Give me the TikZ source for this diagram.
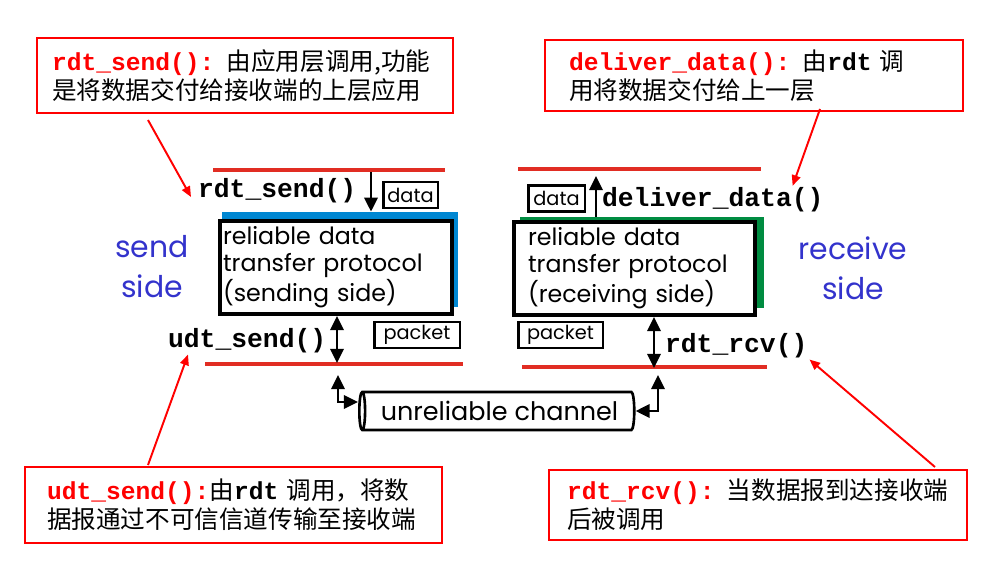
\documentclass[tikz,border=0pt]{standalone}
\usepackage{fontspec}
\setmainfont{Poppins}
\setmonofont{Liberation Mono}
\newfontfamily\cjk{Noto Sans CJK SC}
\newfontfamily\sidefont{Poppins}
\usepackage{xcolor}
\usepackage{tikz}
\usetikzlibrary{arrows.meta, positioning, shapes.geometric}
\definecolor{notered}{RGB}{255,0,0}
\definecolor{layerred}{RGB}{225,45,35}
\definecolor{sendblue}{RGB}{0,135,210}
\definecolor{rcvgreen}{RGB}{0,140,65}
\definecolor{sideblue}{RGB}{51,51,204}
\newcommand{\callname}[1]{{\ttfamily\bfseries\color{notered}#1}}
\newcommand{\rdtname}{{\ttfamily\bfseries rdt}}
\tikzset{
    note/.style={
        rectangle,
        draw=notered,
        line width=1.2pt,
        anchor=north west,
        inner ysep=0pt,
        align=left,
        font=\cjk\fontsize{14}{16.4}\selectfont
    },
    shadowbox/.style={
        rectangle,
        draw=none,
        inner sep=0pt
    },
    protocol/.style={
        rectangle,
        draw=black,
        line width=2.2pt,
        fill=white,
        align=left,
        font=\fontsize{13.5}{15.3}\selectfont
    },
    tag/.style={
        rectangle,
        draw=black,
        line width=1.7pt,
        minimum height=0.52cm,
        inner sep=1pt,
        font=\fontsize{11}{12}\selectfont
    },
    call/.style={
        inner sep=1pt,
        font=\ttfamily\bfseries\fontsize{15}{18}\selectfont
    },
    side/.style={
        text=sideblue,
        align=center,
        font=\sidefont\fontsize{17}{22.7}\selectfont
    },
    channel/.style={
        cylinder,
        shape border rotate=180,
        draw=black,
        line width=1.5pt,
        aspect=0.25,
        minimum width=0.76cm,
        minimum height=5.5cm,
        inner sep=1pt,
        font=\fontsize{14.5}{16}\selectfont
    },
    layer/.style={
        draw=layerred,
        line width=2.2pt
    },
    wire/.style={
        draw=black,
        line width=1.6pt,
        -{Stealth[length=8pt, width=7.5pt, inset=0pt]}
    },
    dwire/.style={
        draw=black,
        line width=1.6pt,
        {Stealth[length=8pt, width=7.5pt, inset=0pt]}-{Stealth[length=8pt, width=7.5pt, inset=0pt]}
    },
    pointer/.style={
        draw=notered,
        line width=1.1pt,
        -{Stealth[length=6pt, width=5pt, inset=0pt]}
    }
}

\begin{document}
\begin{tikzpicture}[x=0.02cm, y=-0.02cm]
\useasboundingbox (0,0) rectangle (990,574);

\node[note, minimum width=8.32cm, minimum height=1.5cm, inner xsep=0.3cm, text width=7.72cm] (sendnote) at (36,37) {\callname{rdt\_send():} 由应用层调用,功能\\是将数据交付给接收端的上层应用};
\node[note, minimum width=8.36cm, minimum height=1.42cm, inner xsep=0.48cm, text width=7.4cm] (dlvnote) at (544,39) {\callname{deliver\_data():} 由\rdtname{} 调\\用将数据交付给上一层};
\node[note, minimum width=8.34cm, minimum height=1.52cm, inner xsep=0.44cm, text width=7.46cm] (udtnote) at (24,466) {\callname{udt\_send():}由\rdtname{} 调用，将数\\据报通过不可信信道传输至接收端};
\node[note, minimum width=8.36cm, minimum height=1.4cm, inner xsep=0.36cm, text width=7.64cm] (rcvnote) at (548,469) {\callname{rdt\_rcv():} 当数据报到达接收端\\后被调用};

\draw[layer] (213,170) -- (445,170);
\draw[layer] (205,364) -- (463,364);
\draw[layer] (518,169) -- (761,169);
\draw[layer] (522,367) -- (767,367);

\node[shadowbox, fill=sendblue, minimum width=4.72cm, minimum height=1.9cm] (sendback) at (340,259.5) {};
\node[protocol, minimum width=4.64cm, minimum height=1.86cm, inner xsep=0.06cm, text width=4.52cm] (sendbox) at (336,267.5) {reliable data\\transfer protocol\\(sending side)};
\node[shadowbox, fill=rcvgreen, minimum width=4.88cm, minimum height=1.82cm] (rcvback) at (642,262.5) {};
\node[protocol, minimum width=4.82cm, minimum height=1.82cm, inner xsep=0.28cm, text width=4.26cm] (rcvbox) at (634.5,268.5) {reliable data\\transfer protocol\\(receiving side)};

\node[tag, minimum width=1.1cm] (senddata) at (410.5,195) {data};
\node[tag, minimum width=1.72cm] (sendpkt) at (417,335) {packet};
\node[tag, minimum width=1.14cm] (rcvdata) at (556.5,198.5) {data};
\node[tag, minimum width=1.7cm] (rcvpkt) at (560.5,335) {packet};

\node[call, anchor=base west] (rsendlbl) at (196,197) {rdt\_send()};
\node[call, anchor=base west] (usendlbl) at (166,347) {udt\_send()};
\node[call, anchor=base west] (dlvlbl) at (600,207) {deliver\_data()};
\node[call, anchor=base west] (rcvlbl) at (663,352) {rdt\_rcv()};

\node[side] (sendside) at (152,267) {send\\side};
\node[side] (rcvside) at (853,268) {receive\\side};

\node[channel] (chan) at (499.5,411) {unreliable channel\hspace{0.45cm}};

\coordinate (senddown) at (371,172);
\coordinate (rcvup) at (596,176);
\coordinate (sendlow) at (337,363);
\coordinate (rcvlow) at (654,368);
\draw[wire] (senddown) -- (senddown |- sendback.north);
\draw[wire] (rcvup |- rcvback.north) -- (rcvup);
\draw[dwire] (sendlow |- sendbox.south) -- (sendlow);
\draw[dwire] (rcvlow |- rcvbox.south) -- (rcvlow);

\coordinate (chanl) at (338,375);
\coordinate (chanr) at (658,375);
\draw[dwire] (chanl) |- ([yshift=0.18cm]chan.west);
\draw[dwire] (chanr) |- (chan.east);

\coordinate (sendnotetip) at (148,120);
\coordinate (dlvnotetip) at (820,109);
\coordinate (udtnotetip) at (148,465);
\coordinate (rcvnotetip) at (935,467);
\draw[pointer] (sendnotetip) -- ([xshift=-0.1cm]rsendlbl.base west);
\draw[pointer] (dlvnotetip) -- ([xshift=-0.66cm]dlvlbl.north east);
\draw[pointer] (udtnotetip) -- ([xshift=0.44cm]usendlbl.south west);
\draw[pointer] (rcvnotetip) -- (rcvlbl.south east);

\end{tikzpicture}
\end{document}
